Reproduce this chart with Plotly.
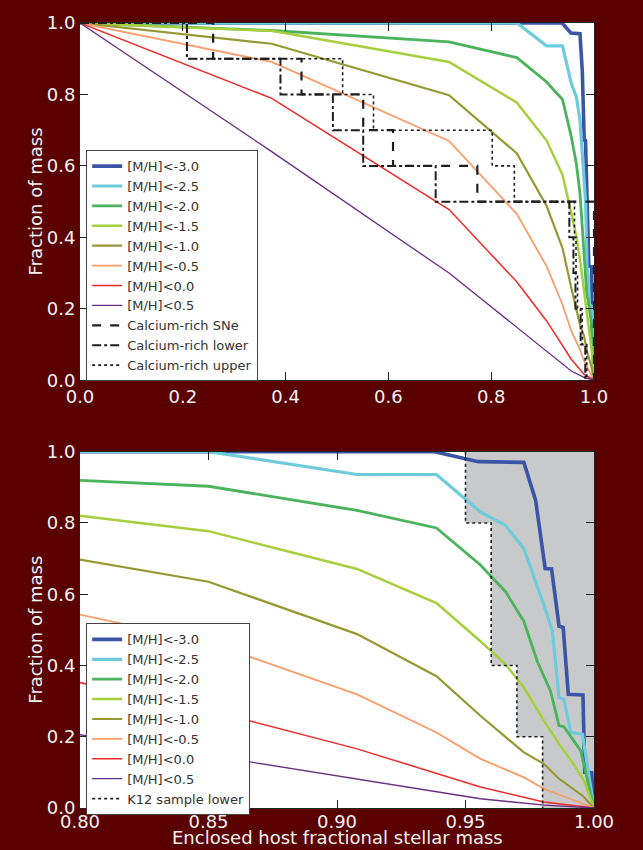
import plotly.graph_objects as go

# ---------------- data ----------------
series_names = ["[M/H]<-3.0", "[M/H]<-2.5", "[M/H]<-2.0", "[M/H]<-1.5",
                "[M/H]<-1.0", "[M/H]<-0.5", "[M/H]<0.0", "[M/H]<0.5"]

mh_m30_x = [0.0, 0.938, 0.955, 0.9727, 0.9773, 0.981, 0.9835, 0.9864, 0.988, 0.990, 0.9957, 0.9964, 0.9991, 1.0]
mh_m30_y = [1.0, 1.0, 0.972, 0.970, 0.863, 0.672, 0.671, 0.510, 0.507, 0.319, 0.317, 0.100, 0.099, 0.0]

mh_m25_x = [0.0, 0.85, 0.9078, 0.9387, 0.9558, 0.9656, 0.9727, 0.9805, 0.9838, 0.9864, 0.9883, 0.991, 0.9955, 0.9974, 1.0]
mh_m25_y = [1.0, 1.0, 0.936, 0.936, 0.831, 0.793, 0.728, 0.570, 0.496, 0.310, 0.305, 0.212, 0.207, 0.124, 0.0]

mh_m20_x = [0.0, 0.373, 0.718, 0.85, 0.9078, 0.9387, 0.9558, 0.9656, 0.9727, 0.9779, 0.9831, 0.9864, 0.9883, 0.9948, 1.0]
mh_m20_y = [1.0, 0.979, 0.947, 0.903, 0.835, 0.786, 0.682, 0.607, 0.524, 0.412, 0.328, 0.231, 0.228, 0.161, 0.0]

mh_m15_x = [0.0, 0.373, 0.718, 0.85, 0.9078, 0.9387, 0.9558, 0.9656, 0.9727, 0.9805, 0.9864, 0.9916, 0.9961, 1.0]
mh_m15_y = [1.0, 0.978, 0.891, 0.777, 0.671, 0.575, 0.468, 0.403, 0.338, 0.245, 0.180, 0.128, 0.077, 0.0]

mh_m10_x = [0.0, 0.373, 0.718, 0.85, 0.9078, 0.9387, 0.9558, 0.9727, 0.9805, 0.9864, 0.9955, 1.0]
mh_m10_y = [1.0, 0.942, 0.798, 0.635, 0.488, 0.370, 0.259, 0.156, 0.124, 0.082, 0.035, 0.0]

mh_m05_x = [0.0, 0.373, 0.718, 0.85, 0.9078, 0.9387, 0.9558, 0.9727, 0.9805, 1.0]
mh_m05_y = [1.0, 0.891, 0.670, 0.465, 0.319, 0.212, 0.138, 0.086, 0.054, 0.0]

mh_p00_x = [0.0, 0.373, 0.718, 0.85, 0.9078, 0.9387, 0.9558, 0.9805, 1.0]
mh_p00_y = [1.0, 0.789, 0.478, 0.275, 0.166, 0.096, 0.059, 0.017, 0.0]

mh_p05_x = [0.0, 0.373, 0.718, 0.85, 0.9078, 0.9387, 0.9558, 0.9805, 1.0]
mh_p05_y = [1.0, 0.64, 0.30, 0.148, 0.082, 0.045, 0.026, 0.008, 0.0]

# Calcium-rich transients: enclosed-mass positions where the fraction steps down by 0.1
ca_levels = [1.0, 0.9, 0.8, 0.7, 0.6, 0.5, 0.4, 0.3, 0.2, 0.1, 0.0]
ca_sne_x = [0.259, 0.431, 0.551, 0.609, 0.773, 1.0, 1.0, 1.0, 1.0, 1.0]
ca_lower_x = [0.208, 0.390, 0.492, 0.551, 0.692, 0.952, 0.960, 0.964, 0.974, 0.983]
ca_upper_x = [0.208, 0.511, 0.571, 0.802, 0.845, 0.962, 0.965, 0.968, 0.977, 0.986]

# K12 sample lower bound
k12_x = [0.95, 0.96, 0.97, 0.98]
k12_levels = [1.0, 0.8, 0.4, 0.2, 0.0]

# ---------------- style ----------------
colors = ["#3a55a6", "#6dcbdc", "#4bb35c", "#a5cf3d", "#989833", "#fa9d6d", "#ef2a28", "#6a2c84"]
widths = [3.6, 3.2, 2.8, 2.5, 2.2, 1.8, 1.5, 1.3]
BG = "#5a0000"
FONT = "DejaVu Sans"

series_x = [mh_m30_x, mh_m25_x, mh_m20_x, mh_m15_x, mh_m10_x, mh_m05_x, mh_p00_x, mh_p05_x]
series_y = [mh_m30_y, mh_m25_y, mh_m20_y, mh_m15_y, mh_m10_y, mh_m05_y, mh_p00_y, mh_p05_y]

fig = go.Figure()


def step_points(xs, levels, start_x):
    px, py = [start_x], [levels[0]]
    for xv, y0, y1 in zip(xs, levels[:-1], levels[1:]):
        px += [xv, xv]
        py += [y0, y1]
    return px, py


# bottom panel grey K12 region (behind everything)
kx, ky = step_points(k12_x, k12_levels, k12_x[0])
fig.add_trace(go.Scatter(x=kx + [1.0, 1.0], y=ky + [0.0, 1.0], fill="toself",
                         fillcolor="#c8c9cb", line=dict(width=0), mode="lines",
                         showlegend=False, hoverinfo="skip", xaxis="x2", yaxis="y2"))

# top panel metallicity curves
for name, xs, ys, c, w in zip(series_names, series_x, series_y, colors, widths):
    fig.add_trace(go.Scatter(x=xs, y=ys, mode="lines", name=name,
                             line=dict(color=c, width=w),
                             legend="legend", xaxis="x", yaxis="y"))

# calcium-rich step lines
for name, xs, dash, w in [("Calcium-rich SNe", ca_sne_x, "dash", 2.2),
                          ("Calcium-rich lower", ca_lower_x, "dashdot", 2.0),
                          ("Calcium-rich upper", ca_upper_x, "dot", 1.6)]:
    px, py = step_points(xs, ca_levels, 0.0)
    fig.add_trace(go.Scatter(x=px, y=py, mode="lines", name=name,
                             line=dict(color="#1e1e1e", width=w, dash=dash),
                             legend="legend", xaxis="x", yaxis="y"))

# bottom panel metallicity curves
for name, xs, ys, c, w in zip(series_names, series_x, series_y, colors, widths):
    fig.add_trace(go.Scatter(x=xs, y=ys, mode="lines", name=name,
                             line=dict(color=c, width=w),
                             legend="legend2", xaxis="x2", yaxis="y2"))

fig.add_trace(go.Scatter(x=kx, y=ky, mode="lines", name="K12 sample lower",
                         line=dict(color="#1e1e1e", width=1.6, dash="dot"),
                         legend="legend2", xaxis="x2", yaxis="y2"))

tickfont = dict(family=FONT, size=18, color="#f2f2f2")
axis_common = dict(showline=True, linecolor="#222222", linewidth=1, mirror="ticks",
                   ticks="inside", ticklen=8, tickcolor="#222222", tickwidth=1,
                   showgrid=False, zeroline=False, tickfont=tickfont, fixedrange=True)

top_dom = [0.5449, 1.0]
bot_dom = [0.0, 0.4539]

legend_common = dict(bgcolor="white", bordercolor="#444444", borderwidth=1,
                     font=dict(family=FONT, size=13, color="#333333"),
                     xanchor="left", yanchor="top", itemwidth=30, tracegroupgap=0)

fig.update_layout(
    width=643, height=850,
    paper_bgcolor=BG, plot_bgcolor="white",
    margin=dict(l=80, r=49, t=17, b=42),
    font=dict(family=FONT),
    xaxis=dict(domain=[0, 1], range=[0, 1], anchor="y", dtick=0.2, tick0=0,
               tickformat=".1f", **axis_common),
    yaxis=dict(domain=top_dom, range=[0, 1], anchor="x", dtick=0.2, tick0=0,
               tickformat=".1f", **axis_common),
    xaxis2=dict(domain=[0, 1], range=[0.8, 1.0], anchor="y2", dtick=0.05, tick0=0.8,
                tickformat=".2f", ticklabelstandoff=-3, **axis_common),
    yaxis2=dict(domain=bot_dom, range=[0, 1], anchor="x2", dtick=0.2, tick0=0,
                tickformat=".1f", **axis_common),
    legend=dict(x=0.012, y=0.838, **legend_common),
    legend2=dict(x=0.012, y=0.2351, **legend_common),
    annotations=[
        dict(text="Fraction of mass", xref="paper", yref="paper", x=-0.086,
             y=(top_dom[0] + top_dom[1]) / 2, textangle=-90, showarrow=False,
             xanchor="center", yanchor="middle",
             font=dict(family=FONT, size=18, color="#f2f2f2")),
        dict(text="Fraction of mass", xref="paper", yref="paper", x=-0.086,
             y=(bot_dom[0] + bot_dom[1]) / 2, textangle=-90, showarrow=False,
             xanchor="center", yanchor="middle",
             font=dict(family=FONT, size=18, color="#f2f2f2")),
        dict(text="Enclosed host fractional stellar mass", xref="paper", yref="paper",
             x=0.5, y=-0.0531, showarrow=False, xanchor="center", yanchor="bottom",
             font=dict(family=FONT, size=18, color="#f2f2f2")),
    ],
)

fig.write_html("out.html", config={"displayModeBar": False},
               post_script="document.body.style.margin='0';document.body.style.overflow='hidden';")
